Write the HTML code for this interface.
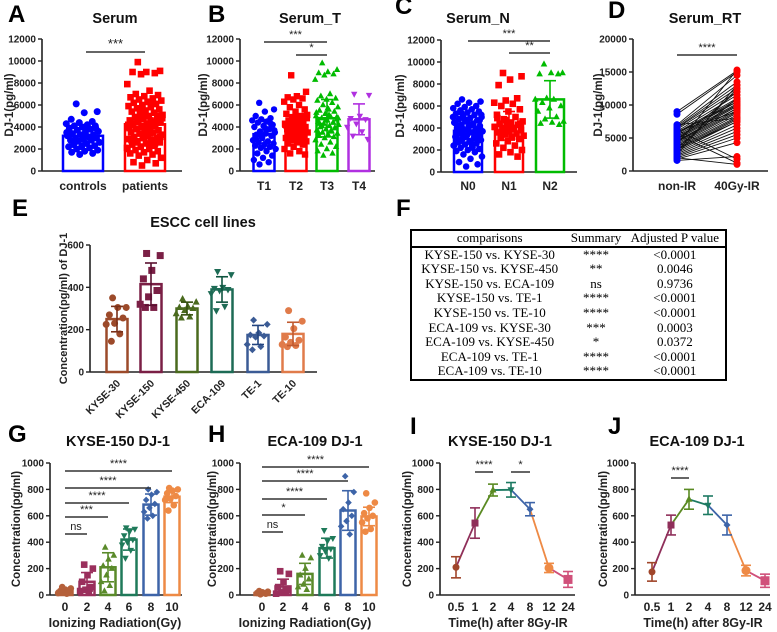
<!DOCTYPE html>
<html><head><meta charset="utf-8">
<style>
body{margin:0;background:#fff;width:777px;height:632px;overflow:hidden;position:relative;font-family:"Liberation Sans",Arial,sans-serif}
svg{position:absolute;left:0;top:0}
#tbl{position:absolute;left:410px;top:229px;width:317px;border:2px solid #000;border-collapse:collapse;font-family:"Liberation Serif",serif;font-size:13px;line-height:14.6px}
#tbl th{font-weight:normal;border-bottom:2px solid #000;padding:0}
#tbl td{text-align:center;padding:0;white-space:nowrap}
</style></head><body>
<svg id="fig" width="777" height="632" viewBox="0 0 777 632" xmlns="http://www.w3.org/2000/svg"></svg>
<table id="tbl">
<tr><th>comparisons</th><th>Summary</th><th>Adjusted P value</th></tr>
<tr><td>KYSE-150 vs. KYSE-30</td><td>****</td><td>&lt;0.0001</td></tr>
<tr><td>KYSE-150 vs. KYSE-450</td><td>**</td><td>0.0046</td></tr>
<tr><td>KYSE-150 vs. ECA-109</td><td>ns</td><td>0.9736</td></tr>
<tr><td>KYSE-150 vs. TE-1</td><td>****</td><td>&lt;0.0001</td></tr>
<tr><td>KYSE-150 vs. TE-10</td><td>****</td><td>&lt;0.0001</td></tr>
<tr><td>ECA-109 vs. KYSE-30</td><td>***</td><td>0.0003</td></tr>
<tr><td>ECA-109 vs. KYSE-450</td><td>*</td><td>0.0372</td></tr>
<tr><td>ECA-109 vs. TE-1</td><td>****</td><td>&lt;0.0001</td></tr>
<tr><td>ECA-109 vs. TE-10</td><td>****</td><td>&lt;0.0001</td></tr>
</table>
<script>
// ---- data ----
const aCats=["controls","patients"];
const aControls=[6100,5400,5300,4700,4500,4400,4300,4200,4100,4100,4000,3900,3800,3700,3600,3500,3400,3300,3300,3200,3100,3000,3000,2900,2800,2800,2700,2600,2500,2400,2300,2200,2200,2100,2000,1900,1800,1700,1600,1500,3500,4000,2600,3900,3100];
const aPatients=[9900,9100,9000,9000,8900,8800,7900,7300,7000,6900,6800,6700,6600,6500,6400,6300,6200,6100,6000,5900,5800,5700,5600,5500,5400,5300,5200,5100,5000,4900,4800,4700,4600,4500,4500,4400,4300,4200,4100,4000,4000,3900,3800,3700,3600,3500,3500,3400,3300,3200,3100,3000,3000,2900,2800,2700,2600,2500,2400,2300,2200,2100,2000,1900,1800,1700,1600,1500,1400,1200,1000,800,700,500,4200,4600,3800,5000,3300,2800,6100,5500,4800,3600,2600,4400,5200,3900,2300,4700,3100,3700,4300,2500,5600,2000,3400,4900,2700,3000];
const aMeans=[3200,4250],aSd=[700,1800];
const bCats=["T1","T2","T3","T4"];
const bT1=[6200,5600,5400,5000,4800,4700,4600,4500,4400,4200,4100,4000,3800,3600,3500,3400,3300,3200,3000,2800,2700,2600,2500,2400,2300,2200,2100,2000,1800,1600,1400,1200,1000,800,600,3700,3900,2900,4300,3100];
const bT2=[8700,7200,6800,6700,6600,6500,6300,6000,5800,5600,5400,5200,5000,4900,4800,4700,4600,4500,4400,4300,4200,4100,4000,3900,3800,3700,3600,3500,3400,3300,3200,3100,3000,2900,2800,2700,2600,2500,2400,2200,2000,1800,1600,1500,4500,4100,3700,3300,5100,4900,3900,3500,2900,4200,4400];
const bT3=[9800,9200,9000,8900,8800,8700,8300,7000,6800,6600,6500,6400,6200,6000,5800,5600,5500,5400,5200,5000,4900,4800,4700,4600,4500,4400,4300,4200,4100,4000,3900,3800,3700,3600,3500,3400,3300,3200,3100,3000,2800,2600,2400,2200,2000,1800,1600,1400,4800,5100,4300,3900,4600,5300,3700,4100,4900,5700,3500,4400];
const bT4=[7000,6900,5000,4800,4700,4300,4000,3600,3200,2900];
const bMeans=[3350,3950,4800,4700],bSd=[1300,1100,1700,1400];
const cCats=["N0","N1","N2"];
const cN0=[6600,6400,6300,6200,6000,5900,5800,5700,5600,5500,5400,5300,5200,5100,5000,4900,4800,4700,4600,4500,4400,4300,4200,4100,4000,3900,3800,3700,3600,3500,3400,3300,3200,3100,3000,2900,2800,2700,2600,2500,2400,2300,2200,2100,2000,1900,1800,1600,1400,1200,900,700,500,4500,4300,4100,3900,3700,3500,3300,4800,5000,2600,2800,3000,4600,4400,3600,3400,5200,4200,4000,3800,3200,2400,2200,5400,4700,3900,3100];
const cN1=[9000,8700,8400,7900,6700,6500,6300,6200,6000,5700,5500,5200,5000,4800,4600,4500,4400,4300,4200,4100,4000,3900,3800,3700,3600,3500,3400,3300,3200,3100,3000,2800,2600,2400,2200,2000,1800,1600,1400,4700,4100,3900,3500,4400,3700,4900];
const cN2=[9800,9000,9000,8900,8900,6700,6600,6600,6300,6000,5800,5500,5000,4800,4600,4500,4400,4300];
const cMeans=[3750,4200,6600],cSd=[1200,1300,1700];
const dCats=["non-IR","40Gy-IR"];
const dNon=[9000,8600,7000,6800,6600,6500,6300,6000,5800,5600,5400,5200,5000,4800,4600,4400,4200,4000,3800,3600,3400,3200,3000,2800,2600,2400,2200,2000,1800,1600,6200,5500,4500,3500,2500,7000,5000,3000,4000,6000,2000,5800,3300,4700];
const dIR=[15200,15000,14500,13500,13000,12500,12000,11500,11000,10800,10500,10200,10000,9800,9500,9200,9000,8800,8500,8200,8000,7800,7500,7000,6500,6000,5500,5000,4300,2200,1800,1200,9500,11000,13000,8000,10000,12500,15300,9000,1000,10500,7500,12000];
const eCats=["KYSE-30","KYSE-150","KYSE-450","ECA-109","TE-1","TE-10"];
const eMeans=[250,415,300,390,175,180];
const eSd=[60,100,30,60,45,55];
const ePts=[[350,305,305,270,255,230,225,180,145],[560,550,480,440,385,355,320,305,305],[345,330,310,305,300,290,275,260,255],[475,460,400,395,390,385,370,310,290],[245,225,185,175,170,165,130,120,105],[290,240,205,165,150,140,130,125,120]];
const doseCats=["0","2","4","6","8","10"];
const gMeans=[30,100,210,420,685,745],gSd=[20,70,110,80,80,45];
const gPts=[[60,50,40,30,25,20,15,10],[230,200,150,100,60,40,30,20],[360,300,270,220,200,150,100,70,30],[510,500,480,450,420,400,380,340,280],[800,780,760,720,690,660,630,600,580],[810,800,790,770,750,730,720,680,640]];
const hMeans=[15,65,160,355,640,595],hSd=[10,55,80,75,150,70];
const hPts=[[30,25,20,15,10,5],[180,160,100,60,40,20,10],[300,280,200,150,120,80,60,40],[490,430,410,370,350,330,300,280],[900,780,700,650,600,560,520,460],[770,700,660,620,600,580,550,500,480]];
const timeCats=["0.5","1","2","4","8","12","24"];
const iMeans=[210,545,795,797,650,205,118],iSd=[80,115,45,55,50,35,60];
const jMeans=[175,530,725,680,530,185,108],jSd=[70,75,75,70,75,40,50];

// ---- helpers ----
const svg=document.getElementById('fig');
const NS="http://www.w3.org/2000/svg";
function mk(tag,attrs,parent){const e=document.createElementNS(NS,tag);for(const k in attrs)e.setAttribute(k,attrs[k]);(parent||svg).appendChild(e);return e;}
function txt(x,y,s,size,anchor,extra){const t=mk('text',Object.assign({x:x,y:y,'font-size':size,'font-weight':'bold','text-anchor':anchor||'middle','font-family':'Liberation Sans, Arial, sans-serif',fill:'#222'},extra||{}));t.textContent=s;return t;}
function lin(x1,y1,x2,y2,c,w){return mk('line',{x1:x1,y1:y1,x2:x2,y2:y2,stroke:c||'#000','stroke-width':w||1.5});}
function scale(ymax,y0,y1){return v=>y0-v/ymax*(y0-y1);}
function axes(ax,y0,y1,xEnd,ymax,step,ylabel,ylx,labSize){
  const g=mk('g',{});
  
  
  const sy=scale(ymax,y0,y1);
  mk('line',{x1:ax,y1:y1,x2:ax,y2:y0,stroke:'#222','stroke-width':1.6},g);
  mk('line',{x1:ax,y1:y0,x2:xEnd,y2:y0,stroke:'#222','stroke-width':1.6},g);
  for(let v=0;v<=ymax;v+=step){const y=sy(v);mk('line',{x1:ax-4,y1:y,x2:ax,y2:y,stroke:'#222','stroke-width':1.4},g);txt(ax-6,y+3.5,String(v),10,'end');}
  const yl=txt(ylx,(y0+y1)/2,ylabel,labSize||11.5,'middle',{transform:`rotate(-90 ${ylx} ${(y0+y1)/2})`});
  
  
  return sy;
}
function marker(shape,x,y,c,s){s=s||3.5;
  if(shape==='c')return mk('circle',{cx:x,cy:y,r:s,fill:c});
  if(shape==='s')return mk('rect',{x:x-s,y:y-s,width:2*s,height:2*s,fill:c});
  if(shape==='t')return mk('polygon',{points:`${x},${y-s-0.5} ${x-s},${y+s-1} ${x+s},${y+s-1}`,fill:c});
  if(shape==='v')return mk('polygon',{points:`${x},${y+s+0.5} ${x-s},${y-s+1} ${x+s},${y-s+1}`,fill:c});
  if(shape==='d')return mk('polygon',{points:`${x},${y-s} ${x-s},${y} ${x},${y+s} ${x+s},${y}`,fill:c});
}
function jit(i){const f=(i*0.61803398875+0.3)%1;return f-0.5;}
function barGroup(cx,w,y0,sy,mean,sd,pts,color,shape,spread,ms,ebColor){
  const b=mk('rect',{x:cx-w/2,y:sy(mean),width:w,height:y0-sy(mean),fill:'#fff',stroke:color,'stroke-width':2.5});
  
  
  pts.forEach((v,i)=>{const off=jit(i)*spread;const m=marker(shape,cx+off,sy(v),color,ms);
    
    });
  const ec=ebColor||color;
  lin(cx,sy(mean-sd),cx,sy(mean+sd),ec,1.6);
  lin(cx-6,sy(mean+sd),cx+6,sy(mean+sd),ec,1.6);
  lin(cx-6,sy(mean-sd),cx+6,sy(mean-sd),ec,1.6);
}
function sig(x1,x2,y,label,size){lin(x1,y,x2,y,'#333',1.4);txt((x1+x2)/2,y-4,label,size||11,'middle',{'font-weight':'normal'});}
function panel(l,x,y){const t=txt(x,y,l,24,'start',{fill:'#000'});}
function title(x,y,s){const t=txt(x,y,s,14.5,'middle',{fill:'#111'});}

// ---- A ----
panel('A',8,22);title(115,23,'Serum');
{const sy=axes(42,171,39,182,12000,2000,'DJ-1(pg/ml)',13,11.5);
 const xs=[83,145];
 barGroup(xs[0],40,171,sy,aMeans[0],aSd[0],aControls,'#0000ff','c',34,3.5);
 barGroup(xs[1],40,171,sy,aMeans[1],aSd[1],aPatients,'#ff0000','s',36,3.3);
 aCats.forEach((c,i)=>txt(xs[i],190,c,12));
 sig(86,145,52,'***',13);}
// ---- B ----
panel('B',208,22);title(310,23,'Serum_T');
{const sy=axes(240,171,39,375,12000,2000,'DJ-1(pg/ml)',207,11.5);
 const xs=[264,296,327,359];const sets=[bT1,bT2,bT3,bT4];const cols=['#0000ff','#ff0000','#00bb00','#b030e0'];const sh=['c','s','t','v'];
 xs.forEach((x,i)=>{barGroup(x,21,171,sy,bMeans[i],bSd[i],sets[i],cols[i],sh[i],24,3.2);txt(x,190,bCats[i],12);});
 sig(264,327,42,'***');sig(296,327,55,'*');}
// ---- C ----
panel('C',395,14);title(478,23,'Serum_N');
{const sy=axes(441,172,40,577,12000,2000,'DJ-1(pg/ml)',404,11.5);
 const xs=[468,509,550];const sets=[cN0,cN1,cN2];const cols=['#0000ff','#ff0000','#00bb00'];const sh=['c','s','t'];
 xs.forEach((x,i)=>{barGroup(x,28,172,sy,cMeans[i],cSd[i],sets[i],cols[i],sh[i],30,3.3);txt(x,190,cCats[i],12);});
 sig(468,550,41,'***');sig(509,550,53,'**');}
// ---- D ----
panel('D',608,18);title(705,23,'Serum_RT');
{const sy=axes(633,171,39,768,20000,5000,'DJ-1(pg/ml)',602,11.5);
 const xs=[677,737];
 dNon.forEach((v,i)=>{const l=lin(xs[0],sy(v),xs[1],sy(dIR[i]),'#111',0.9);});
 dNon.forEach(v=>marker('c',xs[0],sy(v),'#0000ff',3.5));
 dIR.forEach(v=>marker('c',xs[1],sy(v),'#ff0000',3.5));
 dCats.forEach((c,i)=>txt(xs[i],190,c,12));
 sig(677,737,55,'****');}
// ---- E ----
panel('E',12,216);title(203,227,'ESCC cell lines');
const eCols=['#9c4a2a','#7a1f45','#4a6a1e','#1d6b55','#3b5b95','#e07b4a'];
const eEb=['#7a3018','#5a1030','#34500e','#0f5540','#234580','#c05a30'];
{const sy=axes(90,372,245,317,600,200,'Concentration(pg/ml) of DJ-1',67,11);
 const xs=[117,151,187,222,258,293];const sh=['c','s','t','v','d','c'];
 xs.forEach((x,i)=>{barGroup(x,21,372,sy,eMeans[i],eSd[i],ePts[i],eCols[i],sh[i],22,3.5,eEb[i]);
  txt(x+4,384,eCats[i],10.5,'end',{transform:`rotate(-45 ${x+4} 384)`});});}
// ---- F ----
panel('F',396,216);
// ---- G/H ----
const dCols=['#b5603a','#9a2f5c','#5a8a2a','#1f7a5a','#3d64a8','#ee8a45'];
const dSh=['c','s','t','v','d','c'];
function doseChart(ax,xs,means,sd,pts,ylx,lines){
  const sy=axes(ax,595,463,ax+132,1000,200,'Concentration(pg/ml)',ylx,11.5);
  xs.forEach((x,i)=>{barGroup(x,15,595,sy,means[i],sd[i],pts[i],dCols[i],dSh[i],14,3.3,dCols[i]);txt(x,611,doseCats[i],12);});
  txt(ax+65,627,'Ionizing Radiation(Gy)',12.5);
  lines.forEach(l=>sig(xs[0],xs[l[0]],l[1],l[2]));
}
panel('G',8,442);title(118,446,'KYSE-150 DJ-1');
doseChart(50,[65,87,108,129,151,172],gMeans,gSd,gPts,20,[[5,471,'****'],[4,488,'****'],[3,503,'****'],[2,517,'***'],[1,534,'ns']]);
panel('H',208,442);title(315,446,'ECA-109 DJ-1');
doseChart(240,[262,283,305,327,348,369],hMeans,hSd,hPts,216,[[5,467,'****'],[4,481,'****'],[3,499,'****'],[2,515,'*'],[1,532,'ns']]);
// ---- I/J ----
const tCols=['#a0452a','#8f2f5a','#5a8a22','#1d7a62','#3d64a8','#ee8a45','#d0507a'];
const tSh=['c','s','t','v','d','c','s'];
function timeChart(ax,xs,means,sd,ylx,lines){
  const sy=axes(ax,595,463,ax+135,1000,200,'Concentration(pg/ml)',ylx,11.5);
  for(let i=0;i<xs.length-1;i++){const l=lin(xs[i],sy(means[i]),xs[i+1],sy(means[i+1]),tCols[i+1],1.8);}
  xs.forEach((x,i)=>{const c=tCols[i];lin(x,sy(means[i]-sd[i]),x,sy(means[i]+sd[i]),c,1.6);lin(x-5,sy(means[i]+sd[i]),x+5,sy(means[i]+sd[i]),c,1.6);lin(x-5,sy(means[i]-sd[i]),x+5,sy(means[i]-sd[i]),c,1.6);
    const m=marker(tSh[i],x,sy(means[i]),c,i>=5?4.5:3.5);
    txt(x,611,timeCats[i],12);});
  txt(ax+68,627,'Time(h) after 8Gy-IR',12.5);
  lines.forEach(l=>sig(xs[l[0]],xs[l[1]],l[2],l[3]));
}
panel('I',410,434);title(500,446,'KYSE-150 DJ-1');
timeChart(440,[456,475,493,511,530,549,568],iMeans,iSd,411,[[1,2,472,'****'],[3,4,472,'*']]);
panel('J',608,434);title(697,446,'ECA-109 DJ-1');
timeChart(635,[652,671,689,708,727,746,765],jMeans,jSd,607,[[1,2,478,'****']]);
</script>
</body></html>
